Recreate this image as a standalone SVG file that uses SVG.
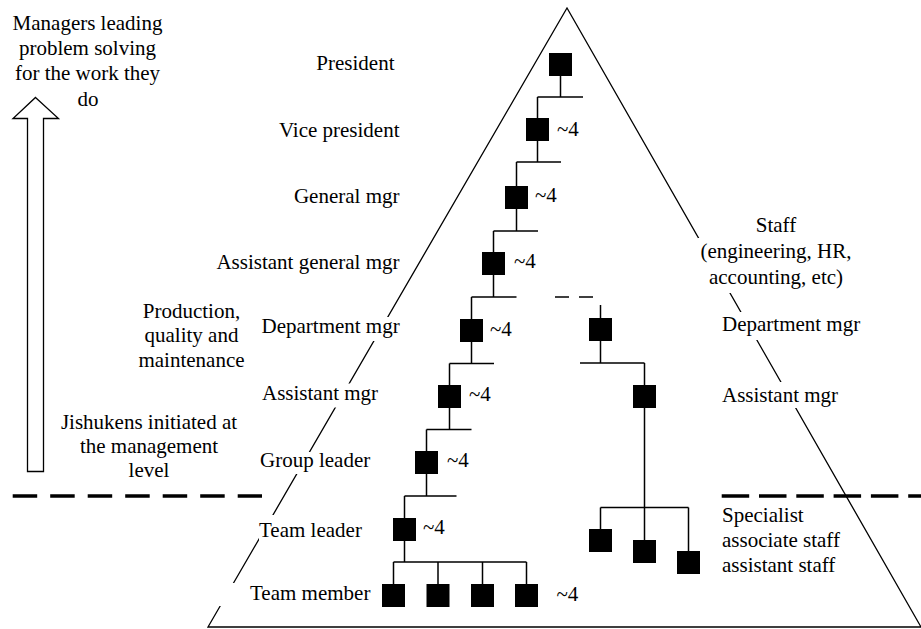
<svg xmlns="http://www.w3.org/2000/svg" width="921" height="629" viewBox="0 0 921 629" font-family="'Liberation Serif', 'Times New Roman', 'DejaVu Serif', serif">
<style>
text{font-family:'Liberation Serif','Times New Roman','DejaVu Serif',serif;font-size:21px;fill:#000}
.box{fill:#000}
.ln{stroke:#000;stroke-width:1.5;fill:none}
.tri{stroke:#000;stroke-width:1.3;fill:none}
.mask{fill:#fff}
.mid{text-anchor:middle}
.end{text-anchor:end}
.dash{stroke:#000;stroke-width:3.5;fill:none}
</style>
<rect width="921" height="629" fill="#fff"/>
<g id="pyramid">
<path class="tri" d="M921,627 H208 L567,8 L921,627"/>
</g>
<g id="text-masks">
<rect class="mask" x="258" y="317" width="146" height="24"/>
<rect class="mask" x="259" y="383.5" width="124" height="24"/>
<rect class="mask" x="257" y="452" width="118" height="22"/>
<rect class="mask" x="259" y="515" width="107" height="29"/>
<rect class="mask" x="218" y="583" width="157" height="23"/>
<rect class="mask" x="698" y="238" width="160" height="55"/>
<rect class="mask" x="719" y="312" width="146" height="28"/>
<rect class="mask" x="719" y="382" width="124" height="26"/>
</g>
<g id="dividers">
<line class="dash" x1="12.7" y1="496" x2="262" y2="496" stroke-dasharray="24.5 13"/>
<line class="dash" x1="721.7" y1="496" x2="921" y2="496" stroke-dasharray="27.5 9.8"/>
</g>
<g id="arrow">
<polygon points="35.5,97.5 58.5,118.5 43.5,118.5 43.5,471.5 27.5,471.5 27.5,118.5 13,118.5" fill="#fff" stroke="#000" stroke-width="1.3"/>
</g>
<g id="connectors">
<path class="ln" d="M560.5,76 V97 M537.5,97 H583 M537.5,97 V118"/>
<path class="ln" d="M537.5,141 V162 M516.5,162 H561 M516.5,162 V186"/>
<path class="ln" d="M516.5,209 V231 M493.5,231 H538 M493.5,231 V252"/>
<path class="ln" d="M493.5,275 V297 M471.5,297 H516.5 M471.5,297 V319"/>
<path class="ln" d="M471.5,342 V363.5 M449.5,363.5 H494 M449.5,363.5 V385"/>
<path class="ln" d="M449.5,408 V429.5 M426.5,429.5 H471.5 M426.5,429.5 V451"/>
<path class="ln" d="M426.5,474 V496 M404.5,496 H456.5 M404.5,496 V518"/>
<path class="ln" d="M404.5,541 V562 M393.5,562 H526.5 M393.5,562 V584 M438,562 V584 M482.5,562 V584 M526.5,562 V584"/>
<line class="ln" x1="555" y1="297" x2="593" y2="297" stroke-dasharray="14 10"/>
<path class="ln" d="M600.5,305 V318"/>
<path class="ln" d="M600.5,341 V363 M580,363 H644.5 M644.5,363 V385"/>
<path class="ln" d="M644.5,408 V540 M600.5,507.5 H688.5 M600.5,507.5 V529 M688.5,507.5 V551"/>
</g>
<g id="node-president"><rect class="box" x="549" y="53" width="23" height="23"/></g>
<g id="node-vice-president"><rect class="box" x="526" y="118" width="23" height="23"/><text x="557" y="136">~4</text></g>
<g id="node-general-mgr"><rect class="box" x="505" y="186" width="23" height="23"/><text x="535" y="202">~4</text></g>
<g id="node-assistant-general-mgr"><rect class="box" x="482" y="252" width="23" height="23"/><text x="514" y="268">~4</text></g>
<g id="node-department-mgr"><rect class="box" x="460" y="319" width="23" height="23"/><text x="490" y="336">~4</text></g>
<g id="node-assistant-mgr"><rect class="box" x="438" y="385" width="23" height="23"/><text x="469" y="401">~4</text></g>
<g id="node-group-leader"><rect class="box" x="415" y="451" width="23" height="23"/><text x="447" y="467">~4</text></g>
<g id="node-team-leader"><rect class="box" x="393" y="518" width="23" height="23"/><text x="423" y="534">~4</text></g>
<g id="node-team-members">
<rect class="box" x="382" y="584" width="23" height="23"/>
<rect class="box" x="426.5" y="584" width="23" height="23"/>
<rect class="box" x="471" y="584" width="23" height="23"/>
<rect class="box" x="515" y="584" width="23" height="23"/>
<text x="556.5" y="601">~4</text>
</g>
<g id="node-staff-department-mgr"><rect class="box" x="589" y="318" width="23" height="23"/></g>
<g id="node-staff-assistant-mgr"><rect class="box" x="633" y="385" width="23" height="23"/></g>
<g id="node-staff-specialists">
<rect class="box" x="589" y="529" width="23" height="23"/>
<rect class="box" x="633" y="540" width="23" height="23"/>
<rect class="box" x="677" y="551" width="23" height="23"/>
</g>
<g id="level-labels">
<text class="end" x="394.5" y="70">President</text>
<text class="end" x="399.5" y="136.5">Vice president</text>
<text class="end" x="399.5" y="202.5">General mgr</text>
<text class="end" x="399.5" y="269">Assistant general mgr</text>
<text x="261.5" y="333">Department mgr</text>
<text x="262" y="400">Assistant mgr</text>
<text x="260" y="466.5">Group leader</text>
<text x="259" y="536.5">Team leader</text>
<text x="250" y="600">Team member</text>
</g>
<g id="staff-labels">
<text class="mid" x="776" y="232">Staff</text>
<text class="mid" x="776" y="258">(engineering, HR,</text>
<text class="mid" x="776" y="284">accounting, etc)</text>
<text x="722" y="331">Department mgr</text>
<text x="722" y="402">Assistant mgr</text>
<text x="722" y="522">Specialist</text>
<text x="722" y="547">associate staff</text>
<text x="722" y="572">assistant staff</text>
</g>
<g id="side-notes">
<text class="mid" x="87.5" y="30">Managers leading</text>
<text class="mid" x="87.5" y="55">problem solving</text>
<text class="mid" x="87.5" y="80">for the work they</text>
<text class="mid" x="88" y="106">do</text>
<text class="mid" x="191.5" y="318">Production,</text>
<text class="mid" x="191.5" y="342">quality and</text>
<text class="mid" x="191.5" y="367">maintenance</text>
<text class="mid" x="149" y="429">Jishukens initiated at</text>
<text class="mid" x="149" y="453">the management</text>
<text class="mid" x="149" y="477">level</text>
</g>
</svg>
